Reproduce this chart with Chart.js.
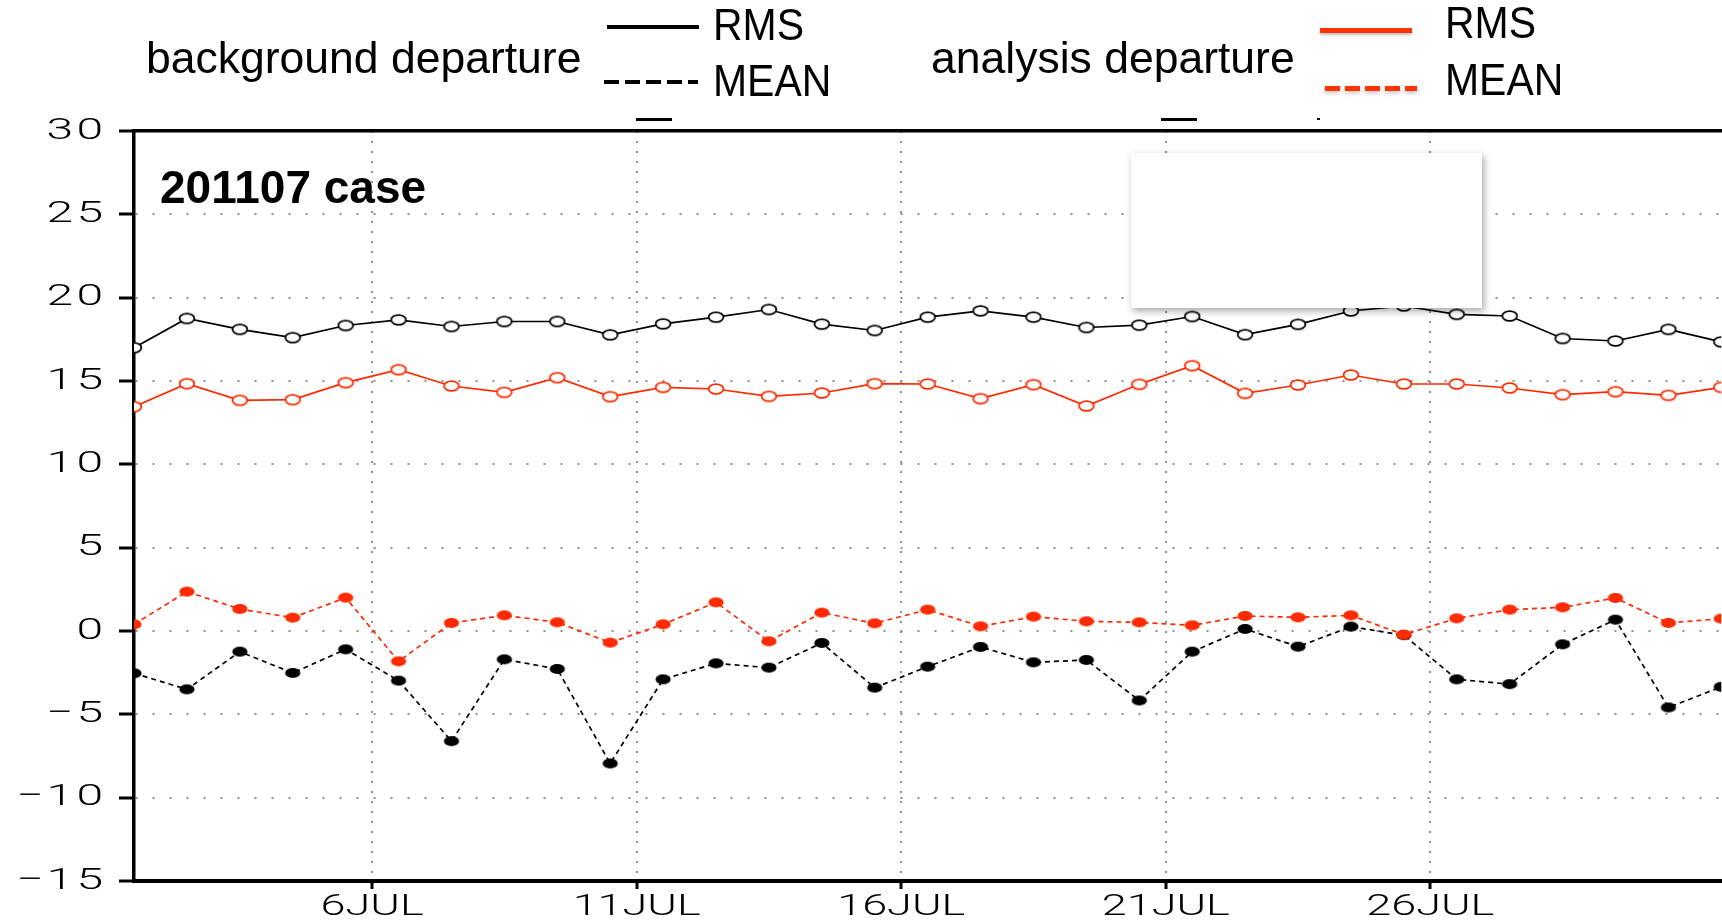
<!DOCTYPE html>
<html>
<head>
<meta charset="utf-8">
<script src="https://cdn.jsdelivr.net/npm/chart.js@4.4.1/dist/chart.umd.min.js"></script>
<style>
html,body{margin:0;padding:0;background:#fff;overflow:hidden;width:1722px;height:923px;}
#wrap{position:relative;width:1722px;height:923px;overflow:hidden;background:#fff;}
canvas{position:absolute;left:0;top:0;}
.t{position:absolute;font-family:"Liberation Sans",Arial,sans-serif;font-size:44.5px;line-height:44px;white-space:nowrap;color:#000;}
.sx{transform:scaleX(0.92);transform-origin:0 0;}
.ttl{position:absolute;font-family:"Liberation Sans",Arial,sans-serif;font-weight:bold;font-size:46px;line-height:46px;white-space:nowrap;color:#000;}
.ln{position:absolute;}
.box{position:absolute;background:#fff;box-shadow:2px 3px 7px rgba(0,0,0,0.35);}
.art{position:absolute;background:#000;}
</style>
</head>
<body>
<div id="wrap">
<canvas id="c" width="1730" height="923"></canvas>
<div class="t" style="left:146px;top:36px">background departure</div>
<div class="ln" style="left:607px;top:25px;width:92px;height:4px;background:#000"></div>
<div class="t sx" style="left:713px;top:3px">RMS</div>
<div class="ln" style="left:604px;top:80px;width:94px;height:4px;background:repeating-linear-gradient(to right,#000 0 15px,transparent 15px 21px)"></div>
<div class="t sx" style="left:713px;top:59px">MEAN</div>
<div class="t" style="left:931px;top:36px">analysis departure</div>
<div class="ln" style="left:1320px;top:28px;width:92px;height:5px;background:#ff3300;box-shadow:0 2px 3px rgba(0,0,0,0.25)"></div>
<div class="t sx" style="left:1445px;top:1px">RMS</div>
<div class="ln" style="left:1325px;top:86px;width:92px;height:5px;background:repeating-linear-gradient(to right,#ff3300 0 15px,transparent 15px 20px);filter:drop-shadow(0 2px 2px rgba(0,0,0,0.25))"></div>
<div class="t sx" style="left:1445px;top:58px">MEAN</div>
<div class="ttl" style="left:160px;top:164px">201107 case</div>
<div class="box" style="left:1131px;top:153px;width:351px;height:155px"></div>
<div class="art" style="left:636px;top:118px;width:36px;height:3px"></div>
<div class="art" style="left:1161px;top:118px;width:36px;height:3px"></div>
<div class="art" style="left:1317px;top:118px;width:3px;height:2px"></div>
</div>
<script>
// ---- data (days of July 2011, 12Z) ----
const obsTimes = [1.5,2.5,3.5,4.5,5.5,6.5,7.5,8.5,9.5,10.5,11.5,12.5,13.5,14.5,15.5,16.5,17.5,18.5,19.5,20.5,21.5,22.5,23.5,24.5,25.5,26.5,27.5,28.5,29.5,30.5,31.5];
const bgRms  = [17.0,18.75,18.1,17.6,18.33,18.67,18.27,18.57,18.57,17.77,18.43,18.83,19.29,18.41,18.03,18.83,19.21,18.83,18.21,18.35,18.87,17.78,18.4,19.2,19.5,19.0,18.9,17.55,17.4,18.1,17.35];
const anRms  = [13.46,14.84,13.84,13.88,14.9,15.68,14.7,14.32,15.2,14.06,14.62,14.52,14.08,14.28,14.84,14.82,13.94,14.78,13.5,14.8,15.92,14.26,14.76,15.36,14.82,14.82,14.58,14.18,14.36,14.14,14.62];
const bgMean = [-2.54,-3.5,-1.24,-2.52,-1.1,-2.98,-6.61,-1.7,-2.28,-7.95,-2.9,-1.94,-2.2,-0.72,-3.4,-2.14,-0.96,-1.88,-1.74,-4.17,-1.24,0.12,-0.94,0.26,-0.25,-2.9,-3.19,-0.8,0.68,-4.59,-3.35];
const anMean = [0.4,2.36,1.32,0.8,2.0,-1.82,0.48,0.94,0.52,-0.7,0.4,1.72,-0.62,1.1,0.46,1.28,0.28,0.86,0.58,0.52,0.34,0.9,0.82,0.94,-0.22,0.76,1.28,1.42,1.98,0.48,0.74];
const xTickDays   = [6,11,16,21,26];
const xTickLabels = ['6JUL','11JUL','16JUL','21JUL','26JUL'];
const yTickValues = [-15,-10,-5,0,5,10,15,20,25,30];
const yTickLabels = ['\u221215','\u221210','\u22125','0','5','10','15','20','25','30'];

const RED = '#ff2a00';
const BLACK = '#000000';

function marker(color, filled){
  const c = document.createElement('canvas');
  c.width = 20; c.height = 14;
  const g = c.getContext('2d');
  g.beginPath();
  if (filled) {
    g.ellipse(10, 7, 7.6, 5.0, 0, 0, Math.PI*2);
    g.fillStyle = color; g.fill();
  } else {
    g.ellipse(10, 7, 7.4, 4.8, 0, 0, Math.PI*2);
    g.fillStyle = '#fff'; g.fill();
    g.lineWidth = 1.8; g.strokeStyle = color; g.stroke();
  }
  return c;
}

function pts(vals){ return obsTimes.map((t,i)=>({x:t, y:vals[i]})); }

const stretchText = {
  id: 'stretchText',
  beforeDraw(chart){
    const orig = CanvasRenderingContext2D.prototype.fillText;
    chart.ctx.fillText = function(text, x, y, maxWidth){
      const right = this.textAlign === 'right';
      const sx = right ? 1.6 : 1.5;
      const ls = right ? 2 : 0;
      this.save();
      this.letterSpacing = ls + 'px';
      this.translate(x + ls * sx, y);
      this.scale(sx, 1);
      if (maxWidth === undefined || maxWidth === null) orig.call(this, text, 0, 0);
      else orig.call(this, text, 0, 0, maxWidth / sx);
      this.restore();
    };
  },
  afterDraw(chart){ delete chart.ctx.fillText; }
};

const tickFont = {family: 'Roboto, "Liberation Sans", Arial, sans-serif', size: 30, weight: 300};

new Chart(document.getElementById('c').getContext('2d'), {
  type: 'line',
  data: {
    datasets: [
      {label:'analysis MEAN', data: pts(anMean), borderColor: RED, backgroundColor: RED, borderWidth: 1.7, borderDash:[5,4], pointStyle: marker(RED, true), pointRadius: 7, clip: 0, tension: 0},
      {label:'analysis RMS', data: pts(anRms), borderColor: RED, backgroundColor: RED, borderWidth: 1.7, pointStyle: marker(RED, false), pointRadius: 7, clip: 0, tension: 0},
      {label:'background MEAN', data: pts(bgMean), borderColor: BLACK, backgroundColor: BLACK, borderWidth: 1.7, borderDash:[5,4], pointStyle: marker(BLACK, true), pointRadius: 7, clip: 0, tension: 0},
      {label:'background RMS', data: pts(bgRms), borderColor: BLACK, backgroundColor: BLACK, borderWidth: 1.7, pointStyle: marker(BLACK, false), pointRadius: 7, clip: 0, tension: 0}
    ]
  },
  options: {
    responsive: false,
    animation: false,
    devicePixelRatio: 1,
    events: [],
    layout: {padding: {top: 131, left: 0, right: 6, bottom: 0}},
    plugins: {legend: {display: false}, tooltip: {enabled: false}, title: {display: false}},
    scales: {
      x: {
        type: 'linear', position: 'bottom', min: 1.5, max: 31.5,
        afterBuildTicks(s){ s.ticks = xTickDays.map(v => ({value: v})); },
        afterFit(s){ s.height = 42; },
        ticks: {
          callback: (v) => xTickLabels[xTickDays.indexOf(v)],
          autoSkip: false, maxRotation: 0, minRotation: 0, padding: 0, color: '#000', font: tickFont
        },
        grid: {color: '#8f8f8f', lineWidth: 2, tickLength: 8, tickWidth: 3, tickColor: '#000', drawTicks: true},
        border: {display: true, color: '#000', width: 4, dash: [2, 8]}
      },
      x2: {
        type: 'linear', position: 'top', min: 1.5, max: 31.5,
        afterFit(s){ s.height = 0; },
        ticks: {display: false},
        grid: {display: false},
        border: {display: true, color: '#000', width: 3.5}
      },
      y: {
        type: 'linear', position: 'left', min: -15, max: 30,
        afterBuildTicks(s){ s.ticks = yTickValues.map(v => ({value: v})); },
        afterFit(s){ s.width = 134; },
        ticks: {
          callback: (v) => yTickLabels[yTickValues.indexOf(v)],
          padding: 16, color: '#000', font: tickFont
        },
        grid: {color: '#8f8f8f', lineWidth: 2, tickLength: 15, tickWidth: 3, tickColor: '#000', drawTicks: true},
        border: {display: true, color: '#000', width: 3.5, dash: [2, 15]}
      }
    }
  },
  plugins: [stretchText]
});
</script>
</body>
</html>
